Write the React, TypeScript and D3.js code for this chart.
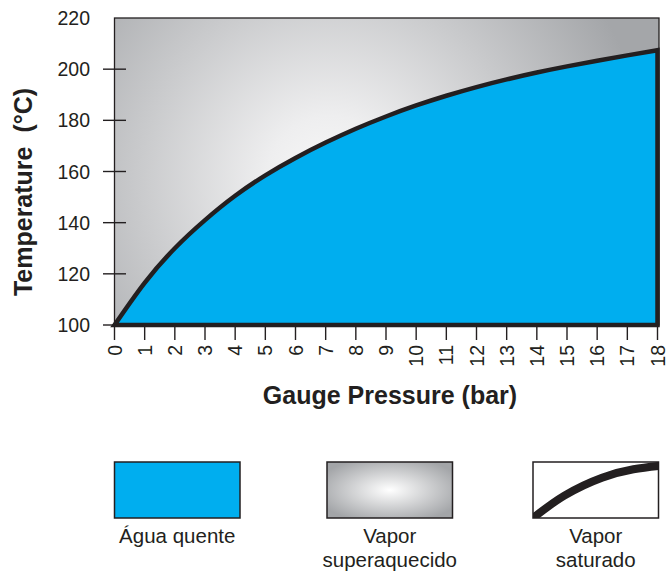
import React from "react";
import * as d3 from "d3";

const pressures = [0, 1, 2, 3, 4, 5, 6, 7, 8, 9, 10, 11, 12, 13, 14, 15, 16, 17, 18];
const temperatures = [100, 116.5, 130, 141, 150.5, 158.5, 165.3, 171.3, 176.7, 181.5, 185.8, 189.6, 193, 196, 198.7, 201.1, 203.3, 205.4, 207.4];
const yTicks = [100, 120, 140, 160, 180, 200];
const yLabels = [100, 120, 140, 160, 180, 200, 220];
const xTicks = pressures;
const legendItems = [
  { key: "water", lines: ["Água quente"] },
  { key: "super", lines: ["Vapor", "superaquecido"] },
  { key: "sat", lines: ["Vapor", "saturado"] },
];
const legendCurve: [number, number][] = [[0, 1], [0.25, 0.6], [0.55, 0.28], [0.8, 0.13], [1, 0.07]];

const W = 667, H = 571;
const INK = "#231f20";
const BLUE = "#00aeef";
const FONT = "'Liberation Sans', Arial, Helvetica, sans-serif";

export default function App() {
  const x = d3.scaleLinear().domain([0, 18]).range([114.5, 657.5]);
  const y = d3.scaleLinear().domain([100, 220]).range([325, 18]);

  const pts: [number, number][] = pressures.map((p, i) => [x(p), y(temperatures[i])]);
  const curve = d3.line().curve(d3.curveNatural)(pts) || "";
  const areaPath = curve + `L${x(18)},${y(100)}L${x(0)},${y(100)}Z`;

  const boxW = 125.5, boxH = 56, boxY = 462;
  const boxXs = [114.5, 327, 533];

  const lx = d3.scaleLinear().domain([0, 1]).range([boxXs[2], boxXs[2] + boxW]);
  const ly = d3.scaleLinear().domain([0, 1]).range([boxY, boxY + boxH]);
  const legendPath = d3.line().x((d) => lx(d[0])).y((d) => ly(d[1])).curve(d3.curveNatural)(legendCurve) || "";

  return (
    <svg width={W} height={H} style={{ position: "absolute", left: 0, top: 0, background: "#fff" }} fontFamily={FONT}>
      <defs>
        <radialGradient id="plotGrad" gradientUnits="userSpaceOnUse" cx={330} cy={180} r={320}>
          <stop offset="0" stopColor="#f8f8f8" />
          <stop offset="0.2" stopColor="#eeeeef" />
          <stop offset="1" stopColor="#a4a6a9" />
        </radialGradient>
        <radialGradient id="legGrad" cx="0.5" cy="0.5" r="0.6">
          <stop offset="0" stopColor="#ffffff" />
          <stop offset="1" stopColor="#a3a5a8" />
        </radialGradient>
        <clipPath id="legClip">
          <rect x={boxXs[2]} y={boxY} width={boxW} height={boxH} />
        </clipPath>
      </defs>

      {/* plot background */}
      <rect x={x(0)} y={y(220)} width={659 - x(0)} height={y(100) - y(220)} fill="url(#plotGrad)" stroke={INK} strokeWidth={1.3} />

      {/* y ticks */}
      {yTicks.map((t) => (
        <line key={t} x1={103} x2={126} y1={y(t)} y2={y(t)} stroke={INK} strokeWidth={1.4} />
      ))}
      {yLabels.map((t) => (
        <text key={t} x={90} y={y(t)} textAnchor="end" dominantBaseline="central" fontSize={19.5} fill={INK}>
          {t}
        </text>
      ))}

      {/* x ticks */}
      {xTicks.map((t) => (
        <g key={t}>
          <line x1={x(t)} x2={x(t)} y1={y(100)} y2={340} stroke={INK} strokeWidth={1.4} />
          <text
            transform={`translate(${x(t)},345) rotate(-90)`}
            textAnchor="end"
            dominantBaseline="central"
            fontSize={19.5}
            fill={INK}
          >
            {t}
          </text>
        </g>
      ))}

      {/* hot water area */}
      <path d={areaPath} fill={BLUE} stroke={INK} strokeWidth={4.5} strokeLinejoin="miter" />

      {/* axis titles */}
      <text x={390} y={404} textAnchor="middle" fontSize={25} fontWeight="bold" fill={INK}>
        Gauge Pressure (bar)
      </text>
      <text transform="translate(32,192) rotate(-90)" textAnchor="middle" fontSize={25} fontWeight="bold" fill={INK}>
        {"Temperature\u00a0 (°C)"}
      </text>

      {/* legend */}
      <rect x={boxXs[0]} y={boxY} width={boxW} height={boxH} fill={BLUE} stroke={INK} strokeWidth={1.5} />
      <rect x={boxXs[1]} y={boxY} width={boxW} height={boxH} fill="url(#legGrad)" stroke={INK} strokeWidth={1.5} />
      <rect x={boxXs[2]} y={boxY} width={boxW} height={boxH} fill="#fff" stroke={INK} strokeWidth={1.5} />
      <path d={legendPath} fill="none" stroke={INK} strokeWidth={8} clipPath="url(#legClip)" />

      {legendItems.map((item, i) => (
        <text key={item.key} x={boxXs[i] + boxW / 2} textAnchor="middle" fontSize={20.5} fill={INK}>
          {item.lines.map((l, j) => (
            <tspan key={j} x={boxXs[i] + boxW / 2} y={543 + j * 24}>
              {l}
            </tspan>
          ))}
        </text>
      ))}
    </svg>
  );
}
